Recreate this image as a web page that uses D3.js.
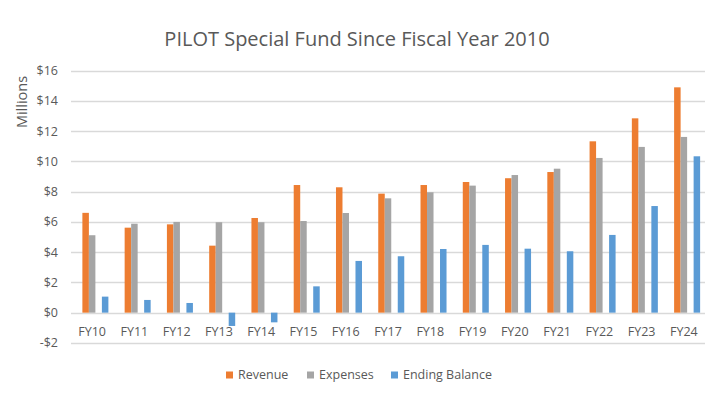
<!doctype html>
<html lang="en">
<head>
  <meta charset="utf-8">
  <title>PILOT Special Fund</title>
  <script src="https://d3js.org/d3.v7.min.js"></script>
  <style>
    body { margin: 0; background: #fff; }
    text { font-family: "Open Sans", "Noto Sans", sans-serif; fill: #595959; }
  </style>
</head>
<body>
  <div id='my_chart'></div>
<script>
  const width = 724;
  const height = 398;
  const plot = {left: 71, right: 705, top: 70.7, bottom: 342.9};

  // data ($ millions)
  const categories = ['FY10', 'FY11', 'FY12', 'FY13', 'FY14', 'FY15', 'FY16', 'FY17',
                      'FY18', 'FY19', 'FY20', 'FY21', 'FY22', 'FY23', 'FY24'];
  const revenue = [6.6, 5.62, 5.84, 4.43, 6.26, 8.44, 8.29, 7.87, 8.44, 8.64, 8.89, 9.3, 11.33, 12.85, 14.9];
  const expenses = [5.12, 5.88, 6.0, 5.98, 5.98, 6.06, 6.59, 7.56, 7.96, 8.4, 9.1, 9.52, 10.23, 10.96, 11.62];
  const ending_balance = [1.06, 0.84, 0.64, -0.88, -0.64, 1.74, 3.42, 3.73, 4.21, 4.48, 4.23, 4.06, 5.14, 7.05, 10.34];
  const y_ticks = [-2, 0, 2, 4, 6, 8, 10, 12, 14, 16];

  // the source chart leaves two empty series slots in each group
  const slots = ['blank1', 'Revenue', 'Expenses', 'blank2', 'Ending Balance'];
  const series = [
    {name: 'Revenue', values: revenue, color: '#ED7D31'},
    {name: 'Expenses', values: expenses, color: '#A5A5A5'},
    {name: 'Ending Balance', values: ending_balance, color: '#5B9BD5'}
  ];

  const x0 = d3.scaleBand()
    .domain(categories)
    .range([plot.left, plot.right]);
  const bw = x0.bandwidth();
  const bar_w = bw / 6.5; // excel gap width 150%
  const x1 = d3.scaleBand()
    .domain(slots)
    .range([bar_w * 0.75, bw - bar_w * 0.75]);
  const y = d3.scaleLinear()
    .domain([-2, 16])
    .range([plot.bottom, plot.top]);

  const chart = d3.select('#my_chart').append('svg')
    .attr('width', width)
    .attr('height', height);

  // gridlines
  chart.append('g')
    .selectAll('line')
    .data(y_ticks)
    .join('line')
      .attr('x1', plot.left)
      .attr('x2', plot.right)
      .attr('y1', d => Math.round(y(d)) + 0.5)
      .attr('y2', d => Math.round(y(d)) + 0.5)
      .attr('stroke', '#d9d9d9')
      .attr('stroke-width', 1.5);

  // y labels
  chart.append('g')
    .selectAll('text')
    .data(y_ticks)
    .join('text')
      .attr('x', 58)
      .attr('y', d => y(d))
      .attr('dy', '0.35em')
      .attr('text-anchor', 'end')
      .style('font-size', '12.5px')
      .text(d => (d < 0 ? '-$' : '$') + Math.abs(d));

  // bars
  series.forEach(s => {
    chart.append('g')
      .selectAll('rect')
      .data(s.values)
      .join('rect')
        .attr('x', (d, i) => x0(categories[i]) + x1(s.name))
        .attr('width', x1.bandwidth())
        .attr('y', d => y(Math.max(0, d)))
        .attr('height', d => Math.abs(y(d) - y(0)))
        .attr('fill', s.color);
  });

  // category labels
  chart.append('g')
    .selectAll('text')
    .data(categories)
    .join('text')
      .attr('x', d => x0(d) + bw / 2)
      .attr('y', 332)
      .attr('dy', '0.35em')
      .attr('text-anchor', 'middle')
      .style('font-size', '12.5px')
      .text(d => d);

  // axis title
  chart.append('text')
    .attr('transform', 'translate(27,102) rotate(-90)')
    .attr('text-anchor', 'middle')
    .style('font-size', '14.5px')
    .text('Millions');

  // title
  chart.append('text')
    .attr('x', 357)
    .attr('y', 46)
    .attr('text-anchor', 'middle')
    .style('font-size', '20px')
    .text('PILOT Special Fund Since Fiscal Year 2010');

  // legend
  const legend_x = [226, 307, 391];
  const legend = chart.append('g')
    .selectAll('g')
    .data(series)
    .join('g')
      .attr('transform', (d, i) => 'translate(' + legend_x[i] + ',375)');
  legend.append('rect')
    .attr('x', 0)
    .attr('y', -3.5)
    .attr('width', 7)
    .attr('height', 7)
    .attr('fill', d => d.color);
  legend.append('text')
    .attr('x', 12)
    .attr('dy', '0.35em')
    .style('font-size', '12.5px')
    .text(d => d.name);
</script>
</body>
</html>
